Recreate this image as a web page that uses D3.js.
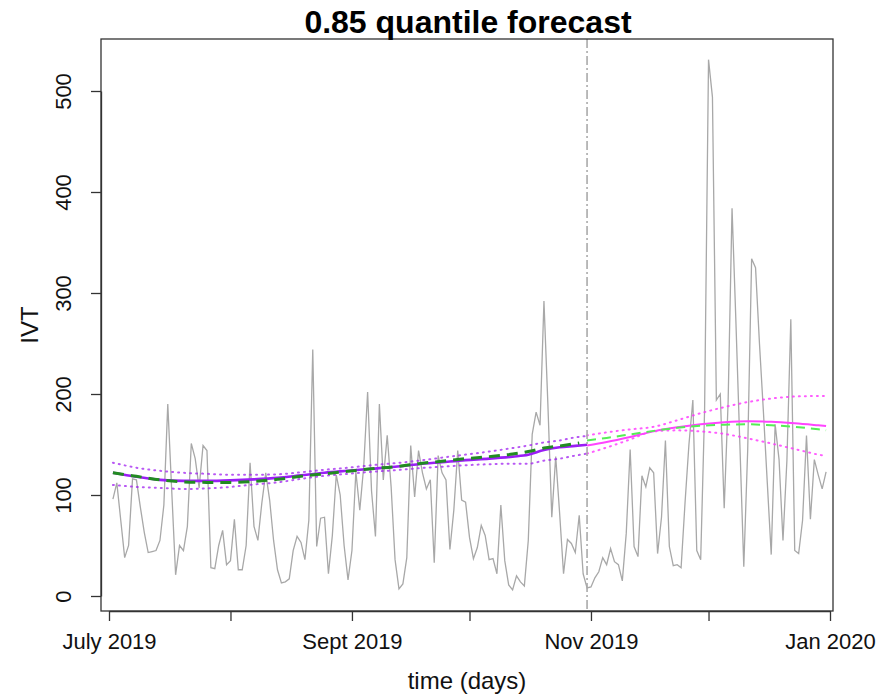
<!DOCTYPE html>
<html>
<head>
<meta charset="utf-8">
<script src="https://cdn.jsdelivr.net/npm/d3@7"></script>
<style>
  body { margin: 0; background: #fff; }
  svg { display: block; font-family: "Liberation Sans", Arial, Helvetica, sans-serif; }
</style>
</head>
<body>
<svg width="888" height="698"></svg>
<script>
// daily IVT, starting 2 July 2019
var startDate = '2019-07-02';
var ivt = [
    96, 112, 75, 38, 50, 116, 115, 88, 63, 43,
    44, 45, 55, 90, 190, 105, 21, 50, 45, 69,
    151, 136, 107, 149, 144, 28, 27, 50, 65, 31,
    35, 76, 26, 26, 50, 132, 69, 55, 92, 122,
    95, 55, 26, 13, 14, 17, 45, 59, 53, 36,
    75, 244, 49, 77, 78, 22, 60, 120, 100, 50,
    16, 45, 123, 85, 128, 202, 104, 59, 190, 115,
    159, 108, 36, 7, 12, 38, 149, 98, 144, 122,
    106, 115, 33, 139, 122, 115, 46, 85, 144, 95,
    93, 58, 37, 48, 70, 60, 36, 37, 22, 90,
    35, 11, 6, 20, 14, 10, 55, 160, 182, 169,
    292, 190, 78, 138, 82, 22, 56, 52, 43, 80,
    22, 8, 9, 18, 24, 38, 31, 47, 34, 31,
    15, 62, 145, 49, 39, 119, 108, 127, 122, 42,
    78, 154, 49, 30, 31, 28, 92, 150, 194, 45,
    36, 185, 531, 494, 194, 200, 87, 192, 384, 270,
    150, 29, 145, 334, 325, 250, 183, 112, 41, 170,
    135, 55, 134, 274, 45, 42, 75, 159, 76, 135,
    120, 106, 123
];

// in-sample fit (days after start)
var fitDays = [0, 6, 12, 18, 24, 30, 36, 42, 48, 54, 60, 66, 72, 78, 84, 90, 96, 102, 106, 110, 114, 118, 121];
var fitQuant = [122, 118, 115, 114, 114, 114.5, 115.5, 117, 119.5, 122, 124, 126, 128, 130.5, 132.5, 134.5, 136, 138, 139.8, 144.5, 147.2, 148.6, 149.8];
var fitUpper = [132, 127, 124, 122, 121, 120, 120, 120.5, 122.5, 125, 127, 129.5, 131.5, 134, 137, 140, 143, 146.5, 149, 152, 154, 157, 158.5];
var fitLower = [110, 108, 107, 106, 106.5, 108, 110.5, 112.5, 116, 119, 121, 123, 124.5, 126.5, 128, 129.5, 130.5, 131, 131, 134, 136, 139, 141];
var altDays = [0, 6, 12, 18, 24, 30, 36, 42, 48, 54, 60, 66, 72, 78, 84, 90, 96, 102, 106, 110, 114, 119];
var altFit = [122, 118.5, 115, 113, 112.5, 112.5, 113.5, 115.5, 118.5, 121, 123.5, 126, 128, 131, 133.5, 136, 138, 140.5, 143, 146.5, 148.5, 151.5];

// forecast
var fcDays = [121, 126, 132, 138, 144, 150, 156, 162, 168, 174, 180, 182];
var fcQuant = [149, 152.5, 157.5, 163, 167, 170, 172, 173, 172.5, 171, 169, 168.3];
var fcUpper = [159, 162, 165, 167.5, 174, 181, 187, 192, 195.5, 197.5, 198, 198];
var fcLower = [141, 147, 155, 163, 164, 163, 160.5, 156, 151, 145.5, 140, 138.5];
var fcAlt = [154, 156.5, 160, 163.5, 166.5, 168.5, 169.5, 170, 169, 167.5, 165, 164];

var splitDate = '2019-10-31';
var monthTicks = ['2019-07-01', '2019-08-01', '2019-09-01', '2019-10-01', '2019-11-01', '2019-12-01', '2020-01-01'];
var monthLabels = ['July 2019', '', 'Sept 2019', '', 'Nov 2019', '', 'Jan 2020'];
var yTicks = [0, 100, 200, 300, 400, 500];

var svg = d3.select('svg');
var box = { left: 101, right: 833, top: 39, bottom: 611 };

var start = d3.isoParse(startDate);
function dayDate(n) { return d3.utcDay.offset(start, n); }

var xScale = d3.scaleUtc()
    .domain([d3.isoParse(monthTicks[0]), d3.isoParse(monthTicks[monthTicks.length - 1])])
    .range([109, 830]);

var yScale = d3.scaleLinear()
    .domain([0, 500])
    .range([596, 91]);

// observed series
svg.append('path')
    .datum(ivt)
    .attr('d', d3.line()
        .x(function (d, i) { return xScale(dayDate(i)); })
        .y(function (d) { return yScale(d); }))
    .attr('fill', 'none')
    .attr('stroke', '#a8a8a8')
    .attr('stroke-width', 1.3);

function curve(days, vals) {
    return d3.line()
        .curve(d3.curveMonotoneX)
        .x(function (d, i) { return xScale(dayDate(days[i])); })
        .y(function (d) { return yScale(d); })(vals);
}

function addLine(days, vals, color, width, dash, opacity) {
    svg.append('path')
        .attr('d', curve(days, vals))
        .attr('fill', 'none')
        .attr('stroke', color)
        .attr('stroke-width', width)
        .attr('stroke-dasharray', dash)
        .attr('stroke-opacity', opacity || 1)
        .attr('stroke-linecap', dash && dash.indexOf('1,') === 0 ? 'round' : 'butt');
}

// bands
addLine(fitDays, fitUpper, '#a020f0', 2, '1,5', 0.75);
addLine(fitDays, fitLower, '#a020f0', 2, '1,5', 0.75);
addLine(fcDays, fcUpper, '#ff33ff', 2, '1,5', 0.8);
addLine(fcDays, fcLower, '#ff33ff', 2, '1,5', 0.8);

// fits
addLine(fitDays, fitQuant, '#9a1ef5', 2.6, null);
addLine(altDays, altFit, '#228b22', 3, '11,7');
addLine(fcDays, fcQuant, '#ff44ff', 2, null);
addLine(fcDays, fcAlt, '#55ee55', 2, '9,6');

// split marker
svg.append('line')
    .attr('x1', xScale(d3.isoParse(splitDate)))
    .attr('x2', xScale(d3.isoParse(splitDate)))
    .attr('y1', box.top)
    .attr('y2', box.bottom)
    .attr('stroke', '#aaaaaa')
    .attr('stroke-width', 1.6)
    .attr('stroke-dasharray', '9,3,2,3');

// frame
svg.append('rect')
    .attr('x', box.left)
    .attr('y', box.top)
    .attr('width', box.right - box.left)
    .attr('height', box.bottom - box.top)
    .attr('fill', 'none')
    .attr('stroke', '#333')
    .attr('stroke-width', 1.3);

var xAxis = svg.append('g')
    .attr('transform', 'translate(0,' + box.bottom + ')')
    .call(d3.axisBottom(xScale)
        .tickValues(monthTicks.map(function (d) { return d3.isoParse(d); }))
        .tickFormat(function (d, i) { return monthLabels[i]; })
        .tickSize(10)
        .tickSizeOuter(0)
        .tickPadding(12));

var yAxis = svg.append('g')
    .attr('transform', 'translate(' + box.left + ',0)')
    .call(d3.axisLeft(yScale)
        .tickValues(yTicks)
        .tickSize(10)
        .tickSizeOuter(0));

yAxis.selectAll('text')
    .attr('transform', 'rotate(-90)')
    .attr('x', 0)
    .attr('y', -30)
    .attr('dy', 0)
    .attr('text-anchor', 'middle');

svg.selectAll('.tick text')
    .attr('font-size', 22)
    .attr('font-family', '"Liberation Sans", Arial, sans-serif')
    .attr('fill', '#111');
svg.selectAll('.tick line, .domain')
    .attr('stroke', '#333')
    .attr('stroke-width', 1.3);

// titles
svg.append('text')
    .attr('x', 468)
    .attr('y', 33)
    .attr('text-anchor', 'middle')
    .attr('font-size', 32)
    .attr('font-weight', 'bold')
    .attr('fill', '#000')
    .text('0.85 quantile forecast');

svg.append('text')
    .attr('x', 467)
    .attr('y', 689)
    .attr('text-anchor', 'middle')
    .attr('font-size', 24)
    .attr('fill', '#111')
    .text('time (days)');

svg.append('text')
    .attr('transform', 'translate(38,325) rotate(-90)')
    .attr('text-anchor', 'middle')
    .attr('font-size', 24)
    .attr('fill', '#111')
    .text('IVT');
</script>
</body>
</html>
